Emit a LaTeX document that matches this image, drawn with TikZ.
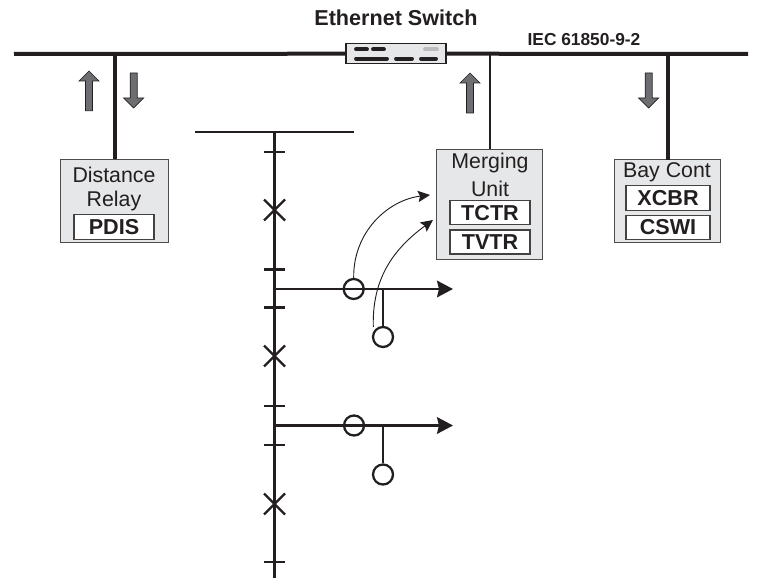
\documentclass[tikz,border=0pt]{standalone}
\usepackage{fontspec}
\setmainfont{Liberation Sans}
\usetikzlibrary{arrows.meta,calc}
\def\pxu{0.75pt}
\definecolor{panelgray}{HTML}{E6E7E8}
\definecolor{ink}{HTML}{231F20}
\definecolor{arrowgray}{HTML}{6D6E71}
\tikzset{
  panel/.style={draw=ink!80,line width=0.8pt,fill=panelgray,inner sep=0pt,anchor=north west},
  lnbox/.style={draw=ink!85,line width=0.8pt,fill=white,inner sep=0pt,font=\fontsize{16.2}{16}\selectfont\bfseries,text=ink},
  plain/.style={inner sep=0pt,font=\fontsize{16}{16}\selectfont,text=ink},
  thicklink/.style={draw=ink,line width=3pt},
  thinlink/.style={draw=ink,line width=2pt},
  sld/.style={draw=ink,line width=1.7pt},
  ct/.style={circle,draw=ink,line width=1.7pt,minimum size={20*\pxu},inner sep=0pt},
  curved/.style={draw=ink,line width=0.7pt,-{Stealth[length=9pt,width=8.5pt,inset=1.5pt]}},
  feeder/.style={sld,-{Stealth[length=12pt,width=12.5pt,inset=1.5pt]}},
  block/.style={draw=ink,line width=0.5pt,fill=arrowgray},
  slot/.style={line width=2.9pt,draw=ink,line cap=round},
}
\newcommand{\blockup}[3]{% x, ytop, ybottom
  \draw[block] (#1-3.5,#3) -- (#1-3.5,#2+10) -- (#1-10,#2+10) -- (#1,#2) -- (#1+10,#2+10) -- (#1+3.5,#2+10) -- (#1+3.5,#3) -- cycle;}
\newcommand{\blockdown}[3]{% x, ytop, ybottom
  \draw[block] (#1-3.5,#2) -- (#1-3.5,#3-10) -- (#1-10,#3-10) -- (#1,#3) -- (#1+10,#3-10) -- (#1+3.5,#3-10) -- (#1+3.5,#2) -- cycle;}
\newcommand{\ticks}[1]{\draw[sld] ($(#1)+(-10.5,0)$) -- ($(#1)+(10.5,0)$);}
\newcommand{\crossmark}[1]{\draw[sld] ($(#1)+(-10.5,-10.5)$) -- ($(#1)+(10.5,10.5)$) ($(#1)+(-10.5,10.5)$) -- ($(#1)+(10.5,-10.5)$);}
\begin{document}
\begin{tikzpicture}[x=0.75pt,y=-0.75pt]
\useasboundingbox (0,0) rectangle (761,581);
% bus
\coordinate (busL) at (14,54);
\coordinate (busR) at (748,54);
\node[draw=ink,line width=1.2pt,fill=panelgray,minimum width={100*\pxu},minimum height={20*\pxu},inner sep=0pt] (switch) at (395.7,53.7) {};
\draw[thicklink] (busL) -- (switch.west);
\draw[thicklink] (switch.east) -- (busR);
\draw[slot] (356,49.3) -- (367,49.3);
\draw[slot] (373,49.3) -- (384,49.3);
\draw[slot,draw=ink!30] (425,49.3) -- (437,49.3);
\draw[slot] (356,58.7) -- (387,58.7);
\draw[slot] (396,58.7) -- (412,58.7);
\draw[slot] (421,58.7) -- (436,58.7);
\node[inner sep=0pt,font=\fontsize{16.2}{16}\selectfont\bfseries,text=ink] (ethlabel) at (396,18) {Ethernet Switch};
\node[inner sep=0pt,font=\fontsize{13}{13}\selectfont\bfseries,text=ink] (ieclabel) at (584,40) {IEC 61850-9-2};
% Distance relay
\node[panel,minimum width={108*\pxu},minimum height={83*\pxu}] (relay) at (60,159.3) {};
\node[plain] (relaytxa) at (114,174.5) {Distance};
\node[plain] (relaytxb) at (114,201) {Relay};
\node[lnbox,minimum width={80*\pxu},minimum height={24.5*\pxu}] (pdis) at (114,227) {PDIS};
\draw[thicklink] (relay.north |- busL) -- (relay.north);
\blockup{89}{71}{110.7}
\blockdown{133.7}{73}{108}
% Merging unit
\node[panel,minimum width={106*\pxu},minimum height={110*\pxu}] (mu) at (435.7,149) {};
\node[plain] (mutxa) at (490,163) {Merging};
\node[plain] (mutxb) at (490,189) {Unit};
\node[lnbox,minimum width={80*\pxu},minimum height={24.5*\pxu}] (tctr) at (490,212.7) {TCTR};
\node[lnbox,minimum width={80*\pxu},minimum height={24*\pxu}] (tvtr) at (490,242) {TVTR};
\draw[thinlink] (490,54) -- (490,149);
\blockup{470}{73}{113}
% Bay controller
\node[panel,minimum width={106.5*\pxu},minimum height={83*\pxu}] (bay) at (613.7,159) {};
\node[plain] (baytxt) at (667,172) {Bay Cont};
\node[lnbox,minimum width={84*\pxu},minimum height={24.3*\pxu}] (xcbr) at (668,198) {XCBR};
\node[lnbox,minimum width={84*\pxu},minimum height={24*\pxu}] (cswi) at (668,227.5) {CSWI};
\draw[thicklink] (668,54) -- (668,160);
\blockdown{648.7}{73}{108}
% single line
\coordinate (sbL) at (195,132);
\coordinate (sbR) at (354,132);
\coordinate (vT) at (274.5,132);
\coordinate (vB) at (274.5,578);
\draw[sld] (sbL) -- (sbR);
\draw[sld] (vT) -- (vB);
\foreach \yy in {152,269.5,307.5,406,445,562}{\coordinate (tk) at (274.5,\yy); \ticks{tk}}
\foreach \yy in {210,356,504}{\coordinate (xm) at (274.5,\yy); \crossmark{xm}}
% feeder 1
\coordinate (f1a) at (274.5,289);
\coordinate (f1b) at (453,289);
\draw[feeder] (f1a) -- (f1b);
\node[ct] (ct1) at (353.7,289) {};
\node[ct] (vt1) at (383,337) {};
\draw[sld] (383,289) -- (vt1.north);
% feeder 2
\coordinate (f2a) at (274.5,425.5);
\coordinate (f2b) at (453,425.5);
\draw[feeder] (f2a) -- (f2b);
\node[ct] (ct2) at (354,425.5) {};
\node[ct] (vt2) at (383,474.5) {};
\draw[sld] (383,425.5) -- (vt2.north);
% curved
\coordinate (c1e) at (430,195);
\coordinate (c2s) at (373.3,327);
\coordinate (c2e) at (433,220);
\draw[curved] (ct1.north) .. controls (353,232) and (388,200) .. (c1e);
\draw[curved] (c2s) .. controls (372,280) and (392,250) .. (c2e);
\end{tikzpicture}
\end{document}
